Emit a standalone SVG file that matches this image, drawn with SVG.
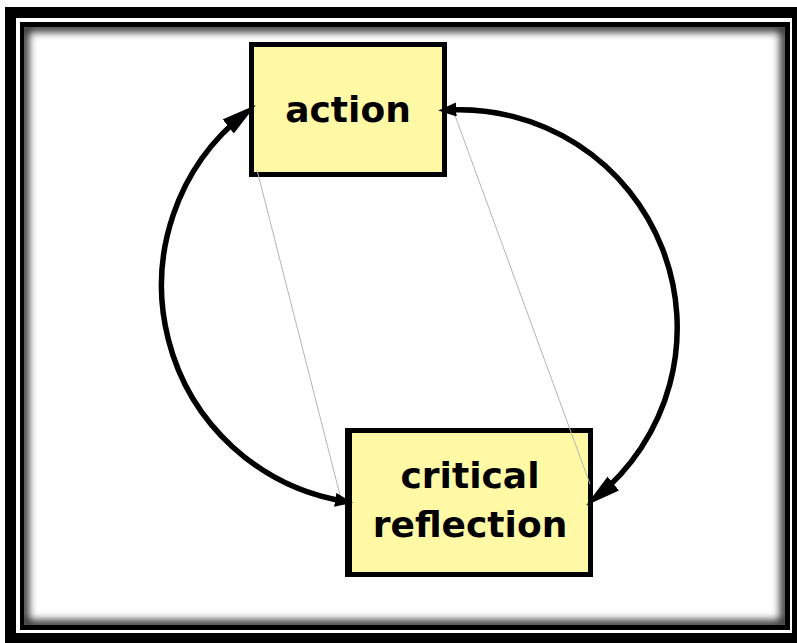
<svg xmlns="http://www.w3.org/2000/svg" width="797" height="643" viewBox="0 0 797 643">
  <style>
    .box { fill: #FFF9A6; stroke: #000; stroke-width: 5; }
    .label { font-family: "DejaVu Sans", "Liberation Sans", sans-serif; font-weight: bold; font-size: 36px; fill: #000; text-anchor: middle; }
    .arc { fill: none; stroke: #000; stroke-width: 5.5; }
    .chord { stroke: #b4b4b4; stroke-width: 1; fill: none; }
  </style>
  <defs>
    <marker id="headBig" markerUnits="userSpaceOnUse" markerWidth="40" markerHeight="22" refX="22" refY="9" orient="auto">
      <path d="M0,0 L35,9 L0,18 z" fill="#000"/>
    </marker>
    <marker id="headSmall" markerUnits="userSpaceOnUse" markerWidth="24" markerHeight="16" refX="10" refY="7" orient="auto-start-reverse">
      <path d="M0,0 L18,7 L0,14 z" fill="#000"/>
    </marker>
    <clipPath id="innerClip">
      <rect x="24" y="27" width="761" height="598"/>
    </clipPath>
    <filter id="soft" x="-5%" y="-5%" width="110%" height="110%">
      <feGaussianBlur stdDeviation="4.5"/>
    </filter>
  </defs>

  <!-- double frame with inset shading -->
  <g id="frame">
    <rect x="0" y="0" width="797" height="643" fill="#fff"/>
    <rect x="5" y="7" width="792" height="636" fill="#000"/>
    <rect x="16" y="18" width="776" height="615" fill="#fff"/>
    <rect x="20" y="22" width="770" height="608" fill="#000"/>
    <rect x="24" y="27" width="761" height="598" fill="#fff"/>
    <g clip-path="url(#innerClip)">
      <rect x="24" y="27" width="761" height="598" fill="none" stroke="#000" stroke-width="9" filter="url(#soft)" opacity="0.9"/>
    </g>
  </g>

  <g id="node-action">
    <rect class="box" x="251.5" y="44.5" width="193" height="130"/>
    <text class="label" x="348" y="122">action</text>
  </g>

  <g id="node-critical-reflection">
    <rect class="box" x="347.5" y="430.5" width="243" height="144"/>
    <rect x="345" y="428" width="7" height="149" fill="#000"/>
    <text class="label" x="470" y="488">critical</text>
    <text class="label" x="470" y="537">reflection</text>
  </g>

  <!-- connectors -->
  <g id="connectors">
    <line class="chord" x1="257" y1="170" x2="342" y2="503"/>
    <line class="chord" x1="453" y1="110" x2="590" y2="484"/>
    <!-- critical reflection -> action -->
    <path class="arc" d="M345.1,501.5 A219,219 0 0 1 245.6,112.9" marker-start="url(#headSmall)" marker-end="url(#headBig)"/>
    <!-- action -> critical reflection -->
    <path class="arc" d="M446.3,110.1 A218,218 0 0 1 596.2,497.3" marker-start="url(#headSmall)" marker-end="url(#headBig)"/>
  </g>
</svg>
